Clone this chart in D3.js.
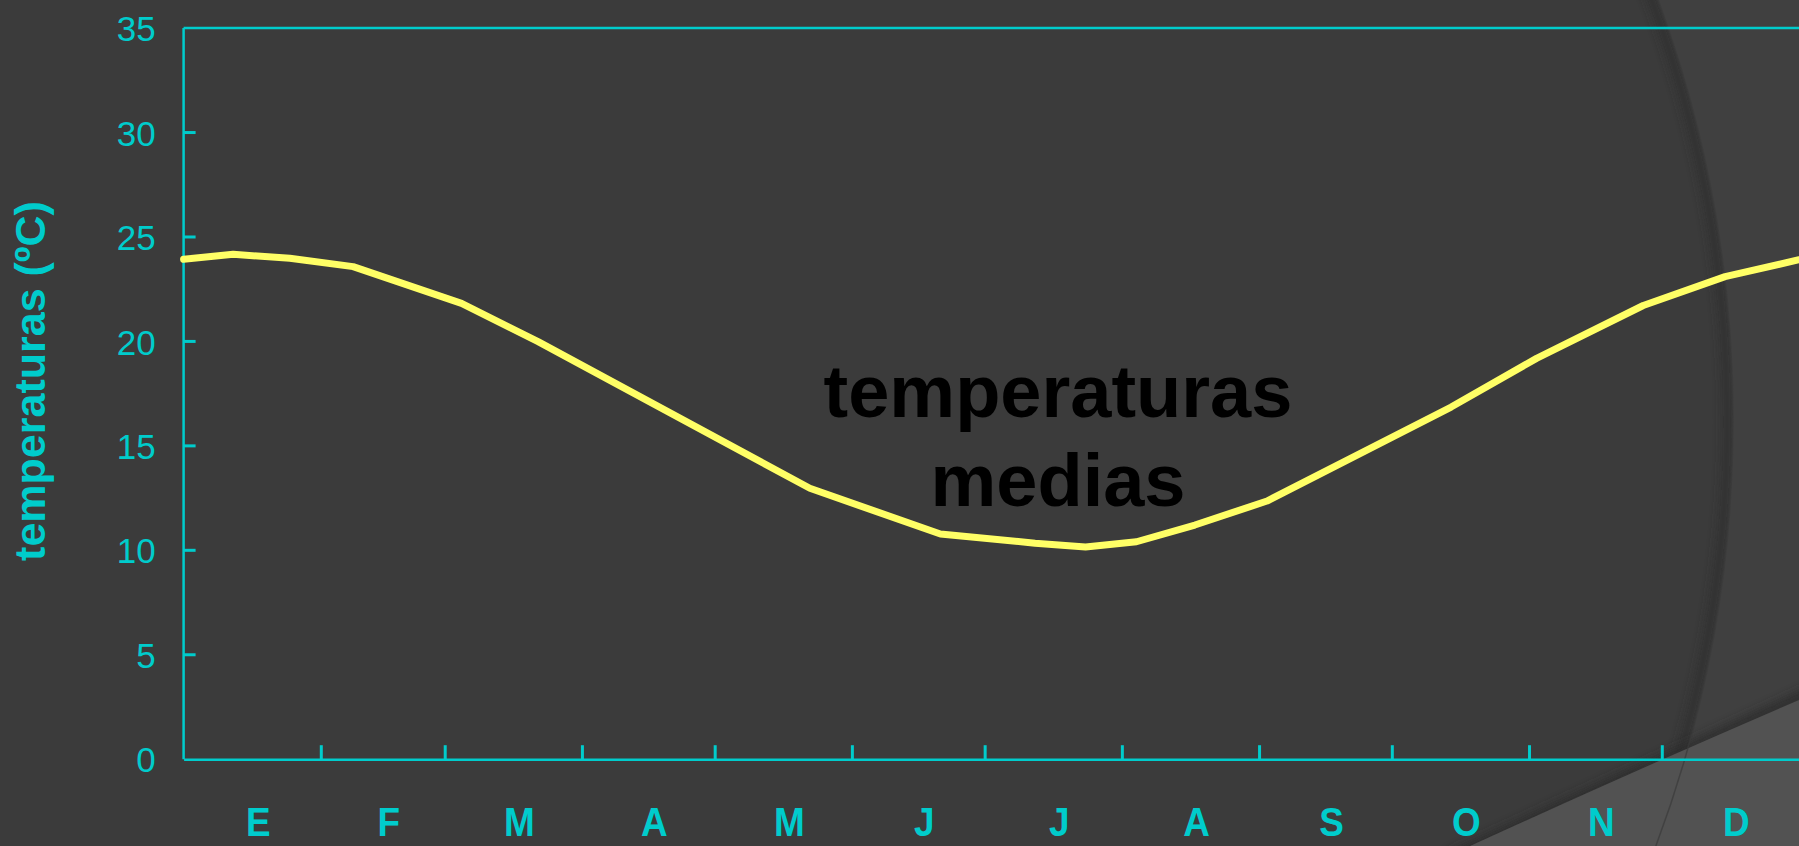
<!DOCTYPE html>
<html>
<head>
<meta charset="utf-8">
<script src="https://cdn.jsdelivr.net/npm/d3@7"></script>
<style>
  html, body { margin: 0; padding: 0; background: #3b3b3b; overflow: hidden; }
  svg { display: block; }
</style>
</head>
<body>
<svg id="chart" width="1799" height="846"></svg>
<script>
// Monthly layout of the year (Spanish initials)
const months = ["E", "F", "M", "A", "M", "J", "J", "A", "S", "O", "N", "D"];
const monthDays = [31, 28, 31, 30, 31, 30, 31, 31, 30, 31, 30, 31];

// Mean temperature curve: day of year and temperature (ºC)
const tempDays   = [0, 11.2, 24, 38.3, 62.8, 80.1, 141.5, 171, 192.4, 203.8, 215.3, 228.5, 244.8, 286.4, 305.7, 329.8, 348.3, 365];
const tempValues = [23.93, 24.17, 23.98, 23.58, 21.82, 19.99, 12.97, 10.78, 10.34, 10.16, 10.41, 11.21, 12.36, 16.86, 19.19, 21.72, 23.10, 23.91];

// Y axis ticks
const yTicks = [0, 5, 10, 15, 20, 25, 30, 35];

const W = 1799, H = 846;
const CYAN = "#00cccc";
const svg = d3.select("#chart");

// ---- background theme shapes ----
const bg = svg.append("g");
const defs = svg.append("defs");
defs.append("filter").attr("id", "soft").attr("x", "-20%").attr("y", "-20%").attr("width", "140%").attr("height", "140%")
  .append("feGaussianBlur").attr("stdDeviation", 5);
defs.append("clipPath").attr("id", "inArc")
  .append("circle").attr("cx", 518).attr("cy", 420).attr("r", 1215);

bg.append("rect").attr("width", W).attr("height", H).attr("fill", "#404040");
bg.append("circle").attr("cx", 518).attr("cy", 420).attr("r", 1215).attr("fill", "#3b3b3b");
// soft shadow along the inner edge of the big arc
bg.append("circle").attr("cx", 518).attr("cy", 420).attr("r", 1209)
  .attr("fill", "none").attr("stroke", "#2f2f2f").attr("stroke-width", 8)
  .attr("filter", "url(#soft)").attr("clip-path", "url(#inArc)").attr("opacity", 0.8);

// lighter wedge in the lower right corner with its shadow
bg.append("path").attr("d", "M1450,858 L1812,692")
  .attr("stroke", "#2c2c2c").attr("stroke-width", 12).attr("fill", "none")
  .attr("filter", "url(#soft)").attr("opacity", 0.8);
bg.append("path").attr("d", "M1470,846 Q1645,766 1799,700 L1799,846 Z").attr("fill", "#525252");
bg.append("circle").attr("cx", 518).attr("cy", 420).attr("r", 1215)
  .attr("fill", "none").attr("stroke", "#3a3a3a").attr("stroke-width", 1.5).attr("opacity", 0.7);

// ---- scales ----
const x = d3.scaleLinear().domain([0, 365]).range([183.6, 1799]);
const y = d3.scaleLinear().domain([0, 35]).range([759.2, 28.1]);

const g = svg.append("g");

// month boundaries
const bounds = [];
let acc = 0;
monthDays.forEach(d => { bounds.push(acc); acc += d; });
const monthStarts = bounds.slice(1);
const monthMids = monthDays.map((d, i) => bounds[i] + d / 2);

// frame: left axis and top border
g.append("line").attr("x1", x(0)).attr("x2", x(0)).attr("y1", y(35)).attr("y2", y(0))
  .attr("stroke", CYAN).attr("stroke-width", 2.5);
g.append("line").attr("x1", x(0)).attr("x2", x(365)).attr("y1", y(35)).attr("y2", y(35))
  .attr("stroke", CYAN).attr("stroke-width", 2.5);

// y axis
const yAxis = d3.axisLeft(y).tickValues(yTicks).tickSize(0).tickPadding(28);
const ya = g.append("g").attr("transform", `translate(${x(0)},0)`).call(yAxis);
ya.select(".domain").remove();
ya.selectAll("text").attr("fill", CYAN).attr("font-family", "Liberation Sans, Arial, sans-serif")
  .attr("font-size", 35).attr("dy", "0.36em");
// inward ticks on the y axis
g.selectAll(".ytick").data(yTicks.filter(v => v > 0 && v < 35)).enter().append("line")
  .attr("x1", x(0)).attr("x2", x(0) + 12).attr("y1", d => y(d)).attr("y2", d => y(d))
  .attr("stroke", CYAN).attr("stroke-width", 3);

// x axis: baseline with inward ticks at month boundaries
const xAxis = d3.axisTop(x).tickValues(monthStarts).tickSize(14).tickSizeOuter(0).tickFormat("");
const xa = g.append("g").attr("transform", `translate(0,${y(0)})`).call(xAxis);
xa.select(".domain").attr("stroke", CYAN).attr("stroke-width", 2.5);
xa.selectAll(".tick line").attr("stroke", CYAN).attr("stroke-width", 3);

// month initials
g.selectAll(".month").data(months).enter().append("text")
  .attr("transform", (d, i) => `translate(${x(monthMids[i]) + 6},836) scale(0.9,1)`)
  .attr("text-anchor", "middle")
  .attr("font-family", "Liberation Sans, Arial, sans-serif")
  .attr("font-weight", "bold").attr("font-size", 41)
  .attr("fill", CYAN)
  .text(d => d);

// y axis title
g.append("text")
  .attr("transform", "translate(45,381) rotate(-90)")
  .attr("text-anchor", "middle")
  .attr("font-family", "Liberation Sans, Arial, sans-serif")
  .attr("font-weight", "bold").attr("font-size", 43)
  .attr("fill", CYAN)
  .text("temperaturas (ºC)");

// temperature line
const pts = tempDays.map((d, i) => [d, tempValues[i]]);
const line = d3.line().x(d => x(d[0])).y(d => y(d[1]));
g.append("path").datum(pts).attr("d", line)
  .attr("fill", "none").attr("stroke", "#ffff66").attr("stroke-width", 7)
  .attr("stroke-linejoin", "round").attr("stroke-linecap", "round");

// annotation
const note = g.append("text")
  .attr("text-anchor", "middle")
  .attr("font-family", "Liberation Sans, Arial, sans-serif")
  .attr("font-weight", "bold").attr("font-size", 74)
  .attr("fill", "#000");
note.append("tspan").attr("x", 1058).attr("y", 417).text("temperaturas");
note.append("tspan").attr("x", 1058).attr("y", 506).text("medias");
</script>
</body>
</html>
